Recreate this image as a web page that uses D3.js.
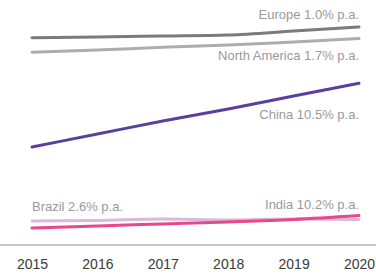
<!DOCTYPE html>
<html>
<head>
<meta charset="utf-8">
<script src="https://cdn.jsdelivr.net/npm/d3@7"></script>
<style>
  html, body { margin: 0; padding: 0; background: #fff; }
  svg { display: block; font-family: "Liberation Sans", Arial, sans-serif; }
</style>
</head>
<body>
<div id="chart"></div>
<script>
// index values (arbitrary units)
var years = [2015, 2016, 2017, 2018, 2019, 2020];

var europe = [84.6, 84.9, 85.3, 85.7, 87.3, 89.0];
var northAmerica = [78.7, 79.6, 80.7, 81.6, 82.9, 84.3];
var china = [40.0, 45.3, 50.6, 55.5, 60.8, 66.0];
var brazil = [9.8, 10.0, 10.6, 10.2, 10.6, 10.4];
var india = [6.9, 7.8, 8.6, 9.4, 10.4, 12.0];

var seriesLabels = ["Europe 1.0% p.a.", "North America 1.7% p.a.", "China 10.5% p.a.", "Brazil 2.6% p.a.", "India 10.2% p.a."];

var width = 376, height = 274;

var x = d3.scaleLinear().domain([2015, 2020]).range([32, 359]);
var y = d3.scaleLinear().domain([0, 100]).range([245, 0]);

var series = [
  { name: "Brazil", values: brazil, color: "#d9b8da", width: 3 },
  { name: "India", values: india, color: "#e9478c", width: 3 },
  { name: "China", values: china, color: "#5a3f9f", width: 3 },
  { name: "North America", values: northAmerica, color: "#adadaf", width: 3 },
  { name: "Europe", values: europe, color: "#7b7b7d", width: 3 },
];

var svg = d3.select("#chart")
  .append("svg")
  .attr("width", width)
  .attr("height", height);

var line = d3.line()
  .x((d, i) => x(years[i]))
  .y((d) => y(d))
  .curve(d3.curveMonotoneX);

svg.selectAll("path.series")
  .data(series)
  .enter()
  .append("path")
  .attr("class", "series")
  .attr("fill", "none")
  .attr("stroke", (d) => d.color)
  .attr("stroke-width", (d) => d.width)
  .attr("stroke-linecap", "round")
  .attr("d", (d) => line(d.values));

// baseline
svg.append("line")
  .attr("x1", 0).attr("x2", width)
  .attr("y1", y(0)).attr("y2", y(0))
  .attr("stroke", "#8c8c8c")
  .attr("stroke-width", 1);

// year ticks
var xAxis = d3.axisBottom(x)
  .tickValues(years)
  .tickFormat(d3.format("d"))
  .tickSize(0)
  .tickPadding(14);

var ax = svg.append("g")
  .attr("transform", "translate(0," + y(0) + ")")
  .call(xAxis);
ax.select(".domain").remove();
ax.selectAll("text")
  .attr("fill", "#3a3a3a")
  .attr("font-size", 14)
  .attr("font-family", "Liberation Sans, Arial, sans-serif");

// series labels
var labelSpec = [
  { i: 0, values: europe, at: "end", dy: -8 },
  { i: 1, values: northAmerica, at: "end", dy: 22 },
  { i: 2, values: china, at: "end", dy: 36 },
  { i: 3, values: brazil, at: "start", dy: -10 },
  { i: 4, values: india, at: "end", dy: -7 },
];

svg.selectAll("text.label")
  .data(labelSpec)
  .enter()
  .append("text")
  .attr("class", "label")
  .attr("x", (d) => d.at == "end" ? x(2020) : x(2015))
  .attr("y", (d) => (d.at == "end" ? y(d.values[d.values.length - 1]) : y(d.values[0])) + d.dy)
  .attr("text-anchor", (d) => d.at)
  .attr("fill", "#9a9a9a")
  .attr("font-size", 13)
  .text((d) => seriesLabels[d.i]);
</script>
</body>
</html>
